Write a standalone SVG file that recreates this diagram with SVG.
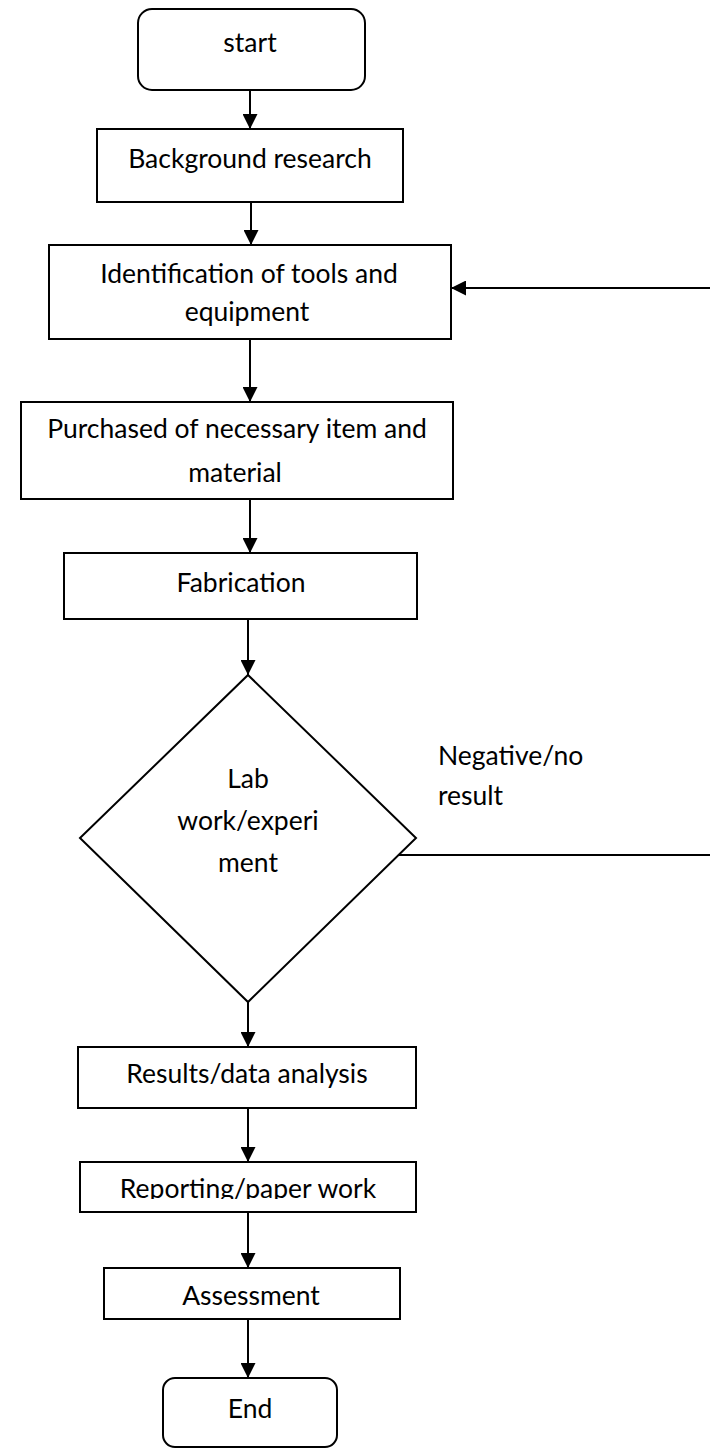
<svg xmlns="http://www.w3.org/2000/svg" width="710" height="1450" viewBox="0 0 710 1450">
<style>
.box{fill:#fff;stroke:#000;stroke-width:2}
.t{font-family:Lato,"Open Sans","Liberation Sans",sans-serif;font-size:26.5px;fill:#000;text-anchor:middle}
.tl{font-family:Lato,"Open Sans","Liberation Sans",sans-serif;font-size:26.5px;fill:#000}
.c{fill:none;stroke:#000;stroke-width:2}
</style>
<defs>
<marker id="ah" viewBox="0 0 10 10" refX="10" refY="5" markerWidth="15" markerHeight="15" markerUnits="userSpaceOnUse" orient="auto">
<path d="M0,0 L10,5 L0,10 z" fill="#000"/>
</marker>
<clipPath id="clipRep"><rect x="60" y="1160" width="380" height="39"/></clipPath>
</defs>
<rect width="710" height="1450" fill="#fff"/>
<g id="connectors">
<line class="c" x1="250" y1="90" x2="250" y2="129" marker-end="url(#ah)"/>
<line class="c" x1="251" y1="202" x2="251" y2="245" marker-end="url(#ah)"/>
<line class="c" x1="250" y1="339" x2="250" y2="402" marker-end="url(#ah)"/>
<line class="c" x1="250" y1="499" x2="250" y2="553" marker-end="url(#ah)"/>
<line class="c" x1="248" y1="619" x2="248" y2="675" marker-end="url(#ah)"/>
<line class="c" x1="248" y1="1002" x2="248" y2="1047" marker-end="url(#ah)"/>
<line class="c" x1="248" y1="1108" x2="248" y2="1162" marker-end="url(#ah)"/>
<line class="c" x1="248" y1="1212" x2="248" y2="1268" marker-end="url(#ah)"/>
<line class="c" x1="248" y1="1319" x2="248" y2="1378" marker-end="url(#ah)"/>
<line class="c" x1="710" y1="288" x2="451" y2="288" marker-end="url(#ah)"/>
<line class="c" x1="399" y1="855" x2="710" y2="855"/>
<text class="tl" x="438" y="765">Negative/no</text>
<text class="tl" x="438" y="805">result</text>
</g>
<g id="start">
<rect class="box" x="138" y="9" width="227" height="81" rx="14"/>
<text class="t" x="250" y="52">start</text>
</g>
<g id="background">
<rect class="box" x="97" y="129" width="306" height="73"/>
<text class="t" x="250" y="168">Background research</text>
</g>
<g id="identification">
<rect class="box" x="49" y="245" width="402" height="94"/>
<text class="t" x="249" y="283">Identification of tools and</text>
<text class="t" x="247" y="321">equipment</text>
</g>
<g id="purchased">
<rect class="box" x="21" y="402" width="432" height="97"/>
<text class="t" x="237" y="438">Purchased of necessary item and</text>
<text class="t" x="235" y="482">material</text>
</g>
<g id="fabrication">
<rect class="box" x="64" y="553" width="353" height="66"/>
<text class="t" x="241" y="592">Fabrication</text>
</g>
<g id="labwork">
<polygon class="box" points="248,675 416,838 248,1002 80,838"/>
<text class="t" x="248" y="788">Lab</text>
<text class="t" x="248" y="830">work/experi</text>
<text class="t" x="248" y="872">ment</text>
</g>
<g id="results">
<rect class="box" x="78" y="1047" width="338" height="61"/>
<text class="t" x="247" y="1083">Results/data analysis</text>
</g>
<g id="reporting">
<rect class="box" x="80" y="1162" width="336" height="50"/>
<text class="t" x="248" y="1198" clip-path="url(#clipRep)">Reporting/paper work</text>
</g>
<g id="assessment">
<rect class="box" x="104" y="1268" width="296" height="51"/>
<text class="t" x="251" y="1305">Assessment</text>
</g>
<g id="end">
<rect class="box" x="163" y="1378" width="174" height="69" rx="12"/>
<text class="t" x="250" y="1418">End</text>
</g>
</svg>
